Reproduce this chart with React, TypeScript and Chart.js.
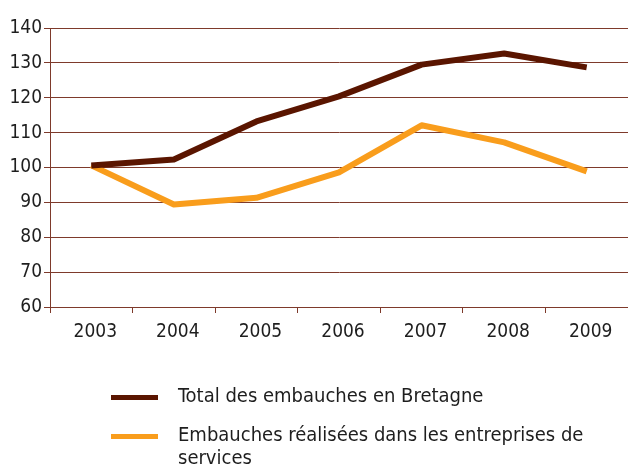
import React, { useEffect, useRef } from "react";
import { Chart, registerables } from "chart.js";

Chart.register(...registerables);

const years = ["2003", "2004", "2005", "2006", "2007", "2008", "2009"];
const totalBretagne = [100.6, 102.3, 113.2, 120.4, 129.5, 132.7, 128.7];
const servicesEntreprises = [100.6, 89.4, 91.3, 98.6, 112.1, 107.2, 98.9];
const yMin = 60;
const yMax = 140;
const yStep = 10;

const legendLabels = [
  "Total des embauches en Bretagne",
  "Embauches réalisées dans les entreprises de services",
];

const BROWN = "#5a1500";
const ORANGE = "#f99d1c";
const GRID = "#7e3a2b";
const TEXT = "#1e1e1e";
const FONT = "'DejaVu Sans Condensed', 'DejaVu Sans', sans-serif";

export default function App() {
  const ref = useRef<HTMLCanvasElement | null>(null);

  useEffect(() => {
    if (!ref.current) return;
    const chart = new Chart(ref.current, {
      type: "line",
      data: {
        labels: years,
        datasets: [
          {
            label: legendLabels[0],
            data: totalBretagne,
            borderColor: BROWN,
            backgroundColor: BROWN,
            borderWidth: 6,
            pointRadius: 0,
            tension: 0,
            borderCapStyle: "butt",
            borderJoinStyle: "round",
          },
          {
            label: legendLabels[1],
            data: servicesEntreprises,
            borderColor: ORANGE,
            backgroundColor: ORANGE,
            borderWidth: 6,
            pointRadius: 0,
            tension: 0,
            borderCapStyle: "butt",
            borderJoinStyle: "round",
          },
        ],
      },
      options: {
        responsive: false,
        animation: false,
        devicePixelRatio: 1,
        layout: { padding: { left: 0, right: 0, top: 28, bottom: 119 } },
        plugins: { legend: { display: false }, tooltip: { enabled: false } },
        scales: {
          x: {
            type: "category",
            offset: true,
            grid: {
              offset: true,
              drawOnChartArea: false,
              drawTicks: true,
              tickLength: 6,
              color: GRID,
              lineWidth: 1,
            },
            border: { display: true, color: GRID, width: 1 },
            ticks: {
              color: TEXT,
              font: { family: FONT, size: 19 },
              padding: 8,
              labelOffset: 4,
              maxRotation: 0,
              autoSkip: false,
            },
            afterFit: (s: any) => {
              s.height = 40;
            },
          },
          y: {
            min: yMin,
            max: yMax,
            grid: {
              color: GRID,
              lineWidth: 1,
              drawTicks: true,
              tickLength: 6,
            },
            border: { display: true, color: GRID, width: 1 },
            ticks: {
              stepSize: yStep,
              color: TEXT,
              font: { family: FONT, size: 19 },
              padding: 2,
            },
            afterFit: (s: any) => {
              s.width = 50;
            },
          },
        },
      },
    });
    return () => chart.destroy();
  }, []);

  const legendColors = [BROWN, ORANGE];
  const legendTops = [397, 436];

  return (
    <div style={{ position: "fixed", left: 0, top: 0, width: 628, height: 466, overflow: "hidden", background: "#fff" }}>
      <canvas ref={ref} width={628} height={466} style={{ position: "absolute", left: 0, top: 0, width: 628, height: 466 }} />
      {legendLabels.map((lab, i) => (
        <div key={i}>
          <div
            style={{
              position: "absolute",
              left: 111,
              top: legendTops[i] - 2.5,
              width: 47,
              height: 5,
              background: legendColors[i],
            }}
          />
          <div
            style={{
              position: "absolute",
              left: 178,
              top: legendTops[i] - 13,
              width: 430,
              fontFamily: FONT,
              fontSize: 20,
              lineHeight: "23px",
              color: TEXT,
            }}
          >
            {lab}
          </div>
        </div>
      ))}
    </div>
  );
}
